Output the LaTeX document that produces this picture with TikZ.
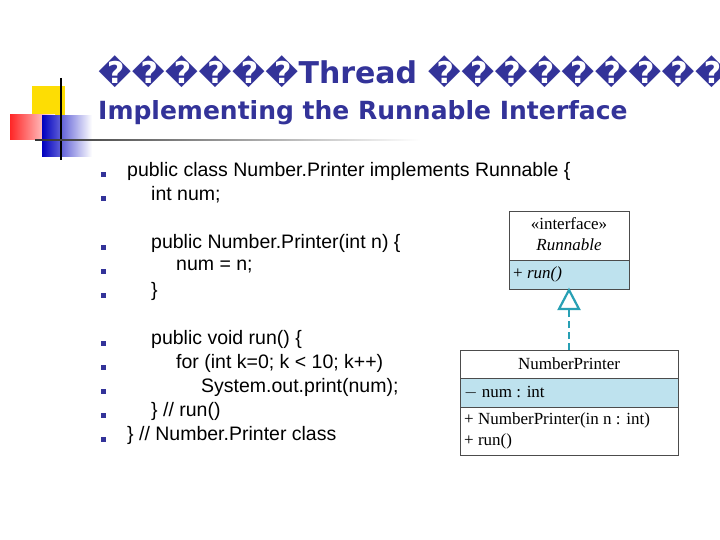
\documentclass[tikz,border=0pt]{standalone}
\usepackage{fontspec}
\setmainfont{Liberation Sans}
\newfontfamily\dejab{DejaVu Sans}
\newfontfamily\umlf{Liberation Serif}
\usetikzlibrary{arrows.meta}
\definecolor{navy}{RGB}{51,51,153}
\definecolor{ublue}{RGB}{190,226,238}
\definecolor{teal}{RGB}{40,160,180}
\begin{document}
\begin{tikzpicture}[x=1pt,y=-1pt,
 bul/.style={fill=navy,minimum size=5pt,inner sep=0pt},
 code/.style={anchor=west,inner sep=0pt,font=\fontsize{19.5}{21}\selectfont},
 uml/.style={draw=black!70,line width=0.8pt},
 umlt/.style={inner sep=0pt,font=\umlf\fontsize{17}{18}\selectfont}]
\useasboundingbox (0,0) rectangle (720,540);
\fill[white] (0,0) rectangle (720,540);
% decoration
\fill[yellow!80!orange] (32,86) rectangle (65,120);
\shade[left color=red!85,right color=red!5] (10,115) rectangle (55,140);
\shade[left color=blue!75!black,right color=white] (42,116) rectangle (92,157);
\draw[line width=1.2pt] (61,78) -- (61,160);
\shade[left color=black!80,right color=white] (35,139.3) rectangle (420,141);
% title
\node[anchor=west,inner sep=0pt,text=navy,font=\dejab\bfseries\fontsize{30}{32}\selectfont] (t1) at (98,72) {������Thread ���������};
\node[anchor=west,inner sep=0pt,text=navy,font=\dejab\bfseries\fontsize{25}{27}\selectfont] (t2) at (98,113) {Implementing the Runnable Interface};
% code
\foreach \y/\x/\t in {171/127/{public class Number.Printer implements Runnable \{},195/151/{int num;},243/151/{public Number.Printer(int n) \{},267/176/{num = n;},291/151/{\}},339/151/{public void run() \{},363/176/{for (int k=0; k < 10; k++)},387/201/{System.out.print(num);},411/151/{\} // run()},435/127/{\} // Number.Printer class}}{
 \node[bul] at (103,\y+4) {};
 \node[code] at (\x,\y) {\t};
}
% UML
\fill[ublue] (509,260) rectangle (629,289);
\draw[uml] (509,211) rectangle (629,289);
\draw[uml] (509,260) -- (629,260);
\node[umlt] (ri1) at (569,224) {«interface»};
\node[umlt] (ri2) at (569,245) {\textit{Runnable}};
\node[umlt,anchor=west] at (513,274) {+ \textit{run()}};
\coordinate (tip) at (569,290);
\fill[ublue] (460,378) rectangle (678,407);
\draw[uml] (460,350) rectangle (678,455);
\draw[uml] (460,378) -- (678,378);
\draw[uml] (460,407) -- (678,407);
\node[umlt] (npl) at (569,364) {NumberPrinter};
\node[umlt,anchor=west] at (464,393) {$-$ num : int};
\node[umlt,anchor=west] at (464,420) {+ NumberPrinter(in n : int)};
\node[umlt,anchor=west] at (464,441) {+ run()};
\coordinate (np) at (569,350);
\draw[teal,line width=2.5pt,dash pattern=on 7pt off 4pt] (np) -- (569,309);
\draw[teal,line width=2.2pt,fill=white,line join=miter] (tip) -- (579,309) -- (559,309) -- cycle;
\end{tikzpicture}
\end{document}
